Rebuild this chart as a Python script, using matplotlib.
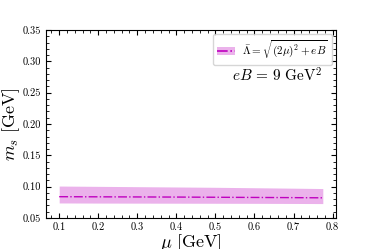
import matplotlib
matplotlib.use("Agg")
import matplotlib.pyplot as plt
from matplotlib.patches import Patch
from matplotlib.lines import Line2D

mu = [0.1, 0.2, 0.3, 0.4, 0.5, 0.6, 0.7, 0.775]
ms_center = [0.0840, 0.0838, 0.0836, 0.0834, 0.0831, 0.0828, 0.0825, 0.0822]
ms_upper = [0.1010, 0.1005, 0.1000, 0.0995, 0.0990, 0.0983, 0.0976, 0.0970]
ms_lower = [0.0740, 0.0738, 0.0737, 0.0736, 0.0735, 0.0734, 0.0732, 0.0730]
xticks = [0.1, 0.2, 0.3, 0.4, 0.5, 0.6, 0.7, 0.8]
yticks = [0.05, 0.10, 0.15, 0.20, 0.25, 0.30, 0.35]

plt.rcParams['font.family'] = 'serif'
plt.rcParams['font.serif'] = ['cmr10', 'DejaVu Serif']
plt.rcParams['mathtext.fontset'] = 'cm'
plt.rcParams['axes.formatter.use_mathtext'] = True

fig = plt.figure(figsize=(3.74, 2.49), dpi=100)
ax = fig.add_axes([46/374, 1-218/249, 290/374, 188/249])

ax.fill_between(mu, ms_lower, ms_upper, color='m', alpha=0.3, linewidth=0)
ax.plot(mu, ms_center, color='m', linestyle='-.', linewidth=1.0)
h = (Patch(facecolor='m', alpha=0.3, edgecolor='none'), Line2D([], [], color='m', ls='-.', lw=1.2))
ax.legend([h], [r'$\bar{\Lambda}=\sqrt{(2\mu)^2+eB}$'], loc='upper right', fontsize=8,
          handlelength=1.6, borderaxespad=0.35, handletextpad=0.6)
ax.text(0.797, 0.755, r'$eB\,=\,9\ \mathrm{GeV}^2$', transform=ax.transAxes,
        ha='center', va='center', fontsize=11)

ax.set_ylim(0.05, 0.35)
ax.set_xticks(xticks)
ax.set_yticks(yticks)
ax.set_xticklabels([f'{v:.1f}' for v in xticks])
ax.set_yticklabels([f'{v:.2f}' for v in yticks])
ax.minorticks_on()
ax.tick_params(which='both', direction='in', top=True, right=True, labelsize=7.5)
ax.tick_params(which='major', length=3.5)
ax.tick_params(which='minor', length=2)
ax.set_xlabel(r'$\mu\ [\mathrm{GeV}]$', fontsize=13, labelpad=0)
ax.set_ylabel(r'$m_s\ [\mathrm{GeV}]$', fontsize=13)
ax.yaxis.set_label_coords(-0.083, 0.5)

fig.savefig('out.png', dpi=100)
